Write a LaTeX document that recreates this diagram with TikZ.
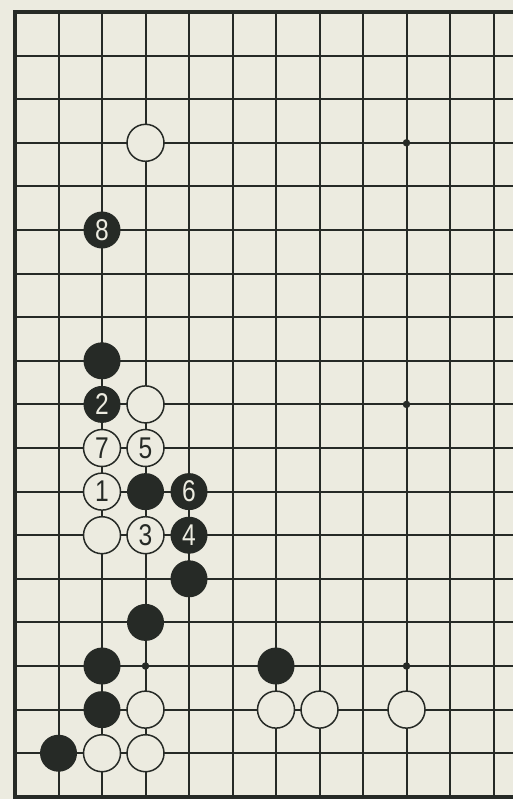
\documentclass[tikz,border=0pt]{standalone}
\usepackage{fontspec}
\setmainfont{Liberation Sans}[FakeStretch=0.82]
\definecolor{paper}{RGB}{236,235,224}
\definecolor{ink}{RGB}{38,42,38}

\begin{document}
\begin{tikzpicture}[
                x=43.5pt, y=-43.6pt,
                every node/.style={circle,inner sep=0pt,minimum size=37pt,
                    font=\fontsize{30}{30}\selectfont},
                blackstone/.style={fill=ink,text=paper},
                whitestone/.style={draw=ink,line width=1.5pt,fill=paper,text=ink},
                starpoint/.style={fill=ink,minimum size=7.5pt},
                gridline/.style={draw=ink,line width=2pt},
                edgeline/.style={draw=ink,line width=3.5pt}
            ]

            \fill[paper] (0.655,0.725) rectangle (12.45,19.05);
            \useasboundingbox (0.655,0.725) rectangle (12.45,19.05);

            % board
            \foreach \c in {2,...,12}
                \draw[gridline] (\c,1) -- (\c,19);
            \foreach \r in {2,...,18}
                \draw[gridline] (1,\r) -- (12.45,\r);
            \draw[edgeline] (12.45,1) -- (1,1) -- (1,19) -- (12.45,19);

            \foreach \c/\r in {10/4,10/10,4/16,10/16}
                \node[starpoint] (star\c\r) at (\c,\r) {};

            % stones
            \node[whitestone] (w4-4) at (4,4) {};
            \node[blackstone] (b3-6) at (3,6) {8};
            \node[blackstone] (b3-9) at (3,9) {};
            \node[blackstone] (b3-10) at (3,10) {2};
            \node[whitestone] (w4-10) at (4,10) {};
            \node[whitestone] (w3-11) at (3,11) {7};
            \node[whitestone] (w4-11) at (4,11) {5};
            \node[whitestone] (w3-12) at (3,12) {1};
            \node[blackstone] (b4-12) at (4,12) {};
            \node[blackstone] (b5-12) at (5,12) {6};
            \node[whitestone] (w3-13) at (3,13) {};
            \node[whitestone] (w4-13) at (4,13) {3};
            \node[blackstone] (b5-13) at (5,13) {4};
            \node[blackstone] (b5-14) at (5,14) {};
            \node[blackstone] (b4-15) at (4,15) {};
            \node[blackstone] (b3-16) at (3,16) {};
            \node[blackstone] (b7-16) at (7,16) {};
            \node[blackstone] (b3-17) at (3,17) {};
            \node[whitestone] (w4-17) at (4,17) {};
            \node[whitestone] (w7-17) at (7,17) {};
            \node[whitestone] (w8-17) at (8,17) {};
            \node[whitestone] (w10-17) at (10,17) {};
            \node[blackstone] (b2-18) at (2,18) {};
            \node[whitestone] (w3-18) at (3,18) {};
            \node[whitestone] (w4-18) at (4,18) {};

        \end{tikzpicture}
\end{document}
